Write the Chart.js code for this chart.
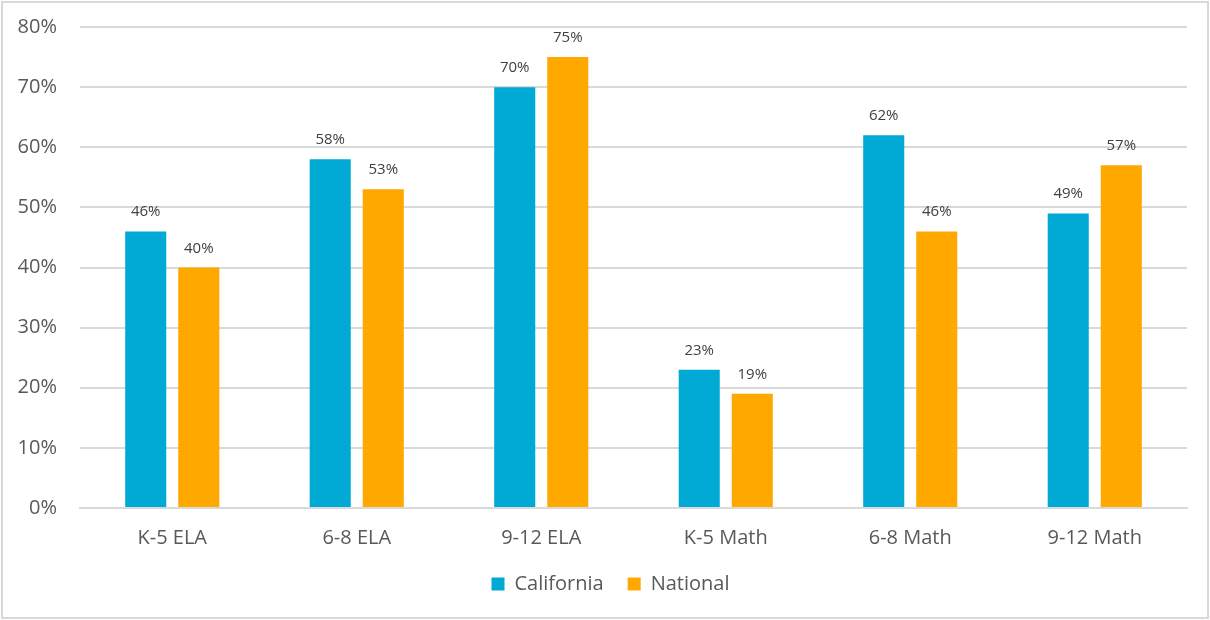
<!DOCTYPE html>
<html>
<head>
<meta charset="utf-8">
<script src="https://cdn.jsdelivr.net/npm/chart.js@4"></script>
<style>
html,body{margin:0;padding:0;background:#fff;}
#wrap{position:absolute;left:0;top:0;width:1210px;height:620px;}
#frame{position:absolute;left:1px;top:1px;width:1204px;height:614px;border:2px solid #d9d9d9;pointer-events:none;}
</style>
</head>
<body>
<div id="wrap"><canvas id="c" width="1210" height="620"></canvas></div>
<div id="frame"></div>
<script>
const categories = ["K-5 ELA","6-8 ELA","9-12 ELA","K-5 Math","6-8 Math","9-12 Math"];
const california = [46,58,70,23,62,49];
const national = [40,53,75,19,46,57];
const yTicks = [0,10,20,30,40,50,60,70,80];

const FONT = "'Open Sans', 'Liberation Sans', sans-serif";

const valueLabels = {
  id:'valueLabels',
  afterDatasetsDraw(chart){
    const ctx = chart.ctx;
    ctx.save();
    ctx.font = "15px " + FONT;
    ctx.fillStyle = "#404040";
    ctx.textAlign = "center";
    ctx.textBaseline = "alphabetic";
    chart.data.datasets.forEach((ds,i)=>{
      const meta = chart.getDatasetMeta(i);
      meta.data.forEach((bar,j)=>{
        ctx.fillText(ds.data[j] + "%", bar.x, bar.y - 15);
      });
    });
    ctx.restore();
  }
};

const legendShift = {
  id:'legendShift',
  afterLayout(chart){
    if (chart.legend) { chart.legend.left += 17; chart.legend.right += 17; }
  }
};

new Chart(document.getElementById('c'), {
  type:'bar',
  data:{
    labels:categories,
    datasets:[
      {label:'California', data:california, backgroundColor:'#00AAD4', categoryPercentage:0.575, barPercentage:0.774},
      {label:'National', data:national, backgroundColor:'#FFA800', categoryPercentage:0.575, barPercentage:0.774}
    ]
  },
  options:{
    responsive:false,
    animation:false,
    devicePixelRatio:1,
    layout:{padding:{left:0,right:23,top:27,bottom:16}},
    plugins:{
      legend:{
        position:'bottom',
        labels:{
          boxWidth:13, boxHeight:13, padding:24,
          color:'#595959',
          font:{family:FONT,size:20}
        }
      },
      tooltip:{enabled:false}
    },
    scales:{
      x:{
        grid:{display:false, drawTicks:false},
        border:{color:'#d9d9d9', width:2},
        ticks:{color:'#595959', font:{family:FONT,size:20}, padding:18},
        afterFit(s){ s.height = 42; }
      },
      y:{
        min:0,max:80,
        afterBuildTicks(s){ s.ticks = yTicks.map(v=>({value:v})); },
        grid:{color:'#d9d9d9', lineWidth:2, drawTicks:false},
        border:{display:false},
        ticks:{color:'#595959', font:{family:FONT,size:20}, padding:23, callback:v=>v+'%'},
        afterFit(s){ s.width = 80; s.paddingTop = 0; s.paddingBottom = 0; }
      }
    }
  },
  plugins:[valueLabels, legendShift]
});
</script>
</body>
</html>
